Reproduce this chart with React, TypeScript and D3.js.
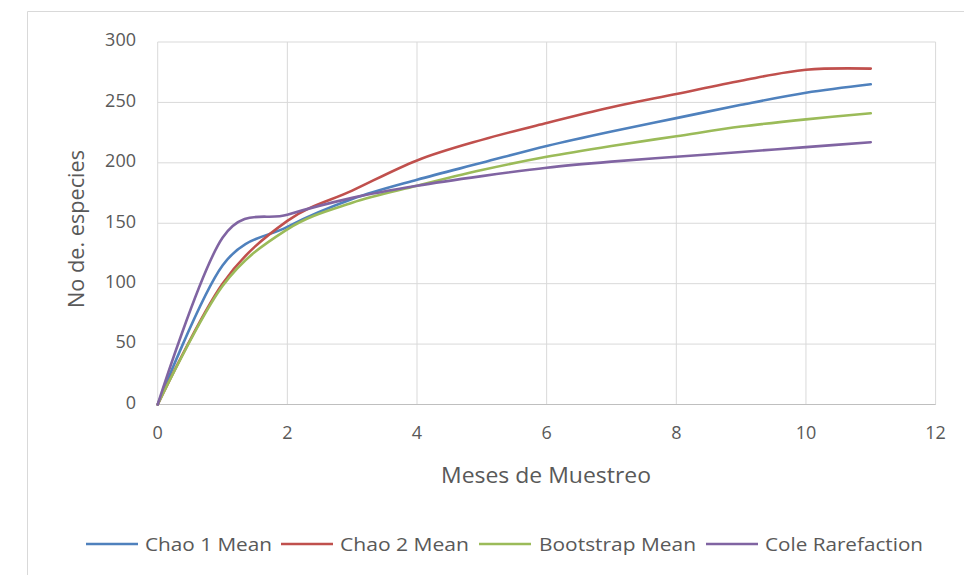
import React from "react";
import * as d3 from "d3";

const months = [0, 1, 2, 3, 4, 5, 6, 7, 8, 9, 10, 11];
const chao1 = [0, 115, 147, 170, 186, 200, 214, 226, 237, 248, 258, 265];
const chao2 = [0, 100, 152, 177, 202, 219, 233, 246, 257, 268, 277, 278];
const bootstrap = [0, 98, 145, 167, 181, 194, 205, 214, 222, 230, 236, 241];
const cole = [0, 138, 157, 171, 181, 189, 196, 201, 205, 209, 213, 217];

const seriesNames = ["Chao 1 Mean", "Chao 2 Mean", "Bootstrap Mean", "Cole Rarefaction"];
const seriesColors = ["#4F81BD", "#C0504D", "#9BBB59", "#8064A2"];
const xTicks = [0, 2, 4, 6, 8, 10, 12];
const yTicks = [0, 50, 100, 150, 200, 250, 300];

const W = 964;
const H = 575;
const FONT = "'Open Sans', 'Noto Sans', sans-serif";

export default function App() {
  const x = d3.scaleLinear().domain([0, 12]).range([157.7, 935.6]);
  const y = d3.scaleLinear().domain([0, 300]).range([404.5, 42]);
  const allSeries = [chao1, chao2, bootstrap, cole];
  const line = d3
    .line<number>()
    .x((_, i) => x(months[i]))
    .y((d) => y(d))
    .curve(d3.curveCardinal.tension(0));

  const legendItems = [
    { lx: 86, tx: 145, tw: 127 },
    { lx: 281, tx: 340, tw: 129 },
    { lx: 479, tx: 539, tw: 157 },
    { lx: 706, tx: 765, tw: 158 },
  ];

  return (
    <svg
      width={W}
      height={H}
      style={{ position: "absolute", left: 0, top: 0, background: "#fff" }}
      fontFamily={FONT}
    >
      <rect x={0} y={0} width={W} height={H} fill="#fff" />
      <line x1={27.5} x2={W} y1={11.5} y2={11.5} stroke="#d9d9d9" />
      <line x1={27.5} x2={27.5} y1={11.5} y2={H} stroke="#d9d9d9" />
      {/* gridlines */}
      {yTicks.map((t) => (
        <line key={"gy" + t} x1={x(0)} x2={x(12)} y1={y(t)} y2={y(t)} stroke="#d9d9d9" strokeWidth={1} />
      ))}
      {xTicks.map((t) => (
        <line key={"gx" + t} x1={x(t)} x2={x(t)} y1={y(0)} y2={y(300)} stroke="#d9d9d9" strokeWidth={1} />
      ))}
      <line x1={x(0)} x2={x(12)} y1={y(0)} y2={y(0)} stroke="#bfbfbf" strokeWidth={1} />
      {/* tick labels */}
      {yTicks.map((t) => (
        <text key={"ty" + t} x={136} y={y(t) - 2} dy="0.35em" textAnchor="end" fontSize={18} fill="#595959">
          {t}
        </text>
      ))}
      {xTicks.map((t) => (
        <text key={"tx" + t} x={x(t)} y={433} dy="0.35em" textAnchor="middle" fontSize={18} fill="#595959">
          {t}
        </text>
      ))}
      {/* axis titles */}
      <text x={441} y={476} dy="0.35em" fontSize={21} fill="#595959" textLength={210} lengthAdjust="spacingAndGlyphs">
        Meses de Muestreo
      </text>
      <text
        transform={`translate(77, 229) rotate(-90)`}
        x={-79}
        dy="0.35em"
        fontSize={21}
        fill="#595959"
        textLength={158}
        lengthAdjust="spacingAndGlyphs"
      >
        No de. especies
      </text>
      {/* series */}
      {allSeries.map((s, i) => (
        <path key={"s" + i} d={line(s) || ""} fill="none" stroke={seriesColors[i]} strokeWidth={2.6} strokeLinecap="round" />
      ))}
      {/* legend */}
      {legendItems.map((it, i) => (
        <g key={"lg" + i}>
          <line x1={it.lx} x2={it.lx + 52} y1={544} y2={544} stroke={seriesColors[i]} strokeWidth={2.6} />
          <text x={it.tx} y={544} dy="0.35em" fontSize={19} fill="#595959" textLength={it.tw} lengthAdjust="spacingAndGlyphs">
            {seriesNames[i]}
          </text>
        </g>
      ))}
    </svg>
  );
}
